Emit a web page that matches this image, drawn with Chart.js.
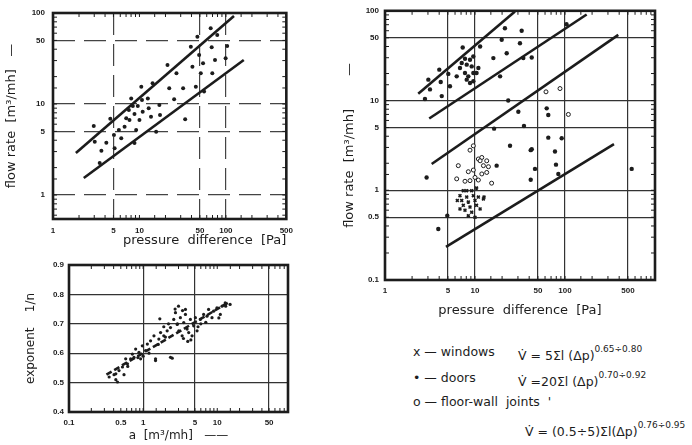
<!DOCTYPE html>
<html>
<head>
<meta charset="utf-8">
<script src="https://cdn.jsdelivr.net/npm/chart.js@4.4.1/dist/chart.umd.min.js"></script>
<style>
  body { margin: 0; background: #fff; width: 692px; height: 445px; overflow: hidden; position: relative; font-family: "DejaVu Sans", sans-serif; color: #1c1c1c; }
  .box { position: absolute; }
  .leg { position: absolute; font-size: 12.5px; white-space: pre; line-height: 14px; }
  .leg sup { font-size: 9px; position: relative; top: -3px; }
</style>
</head>
<body>
<div class="box" style="left:0;top:0;width:300px;height:250px"><canvas id="flowChart"></canvas></div>
<div class="box" style="left:0;top:250px;width:300px;height:195px"><canvas id="expChart"></canvas></div>
<div class="box" style="left:340px;top:0;width:352px;height:320px"><canvas id="elemChart"></canvas></div>

<div class="leg" style="left:413px;top:345px">x — windows</div>
<div class="leg" style="left:518px;top:345px">V̇ = 5Σl (Δp)<sup>0.65÷0.80</sup></div>
<div class="leg" style="left:413px;top:371px">• — doors</div>
<div class="leg" style="left:518px;top:371px">V̇ =20Σl (Δp)<sup>0.70÷0.92</sup></div>
<div class="leg" style="left:413px;top:395px">o — floor-wall  joints  '</div>
<div class="leg" style="left:525px;top:421px">V̇ = (0.5÷5)Σl(Δp)<sup>0.76÷0.95</sup></div>

<script>
// top-left: flow rate vs pressure difference
const tlPressure = [2.96, 3.04, 3.63, 4.14, 4.6, 5.07, 5.16, 5.78, 6.16, 6.73, 7.03, 7.54, 7.67, 8.03, 8.38, 8.76, 9.16, 9.57, 10, 10.5, 10.7, 10.9, 12.5, 12.8, 13.6, 14.2, 15.6, 17, 17.3, 21.1, 22.1, 25.2, 26.8, 32, 33.8, 39.3, 41, 44.9, 46.8, 49, 51.2, 54.4, 55.9, 66.7, 68.5, 69.6, 74.8, 79.4, 99.3, 103.5, 3.47, 8.76];
const tlFlow = [5.73, 3.85, 3.07, 3.76, 6.9, 4.56, 3.26, 5.18, 4.2, 5.63, 6.96, 8.6, 6.67, 11.5, 9.5, 7.76, 5.18, 9.5, 6.67, 15.5, 11.1, 8.24, 11.5, 8.97, 7.25, 16.9, 4.96, 9.75, 7.57, 26.8, 14.9, 11.3, 21.8, 14.9, 6.79, 42.6, 25.7, 15.5, 55, 34.5, 21.8, 28, 13.7, 67.9, 42, 21.8, 30.5, 57.3, 31.8, 43.4, 2.25, 3.73];
const tlUpperX = [1.84, 124], tlUpperY = [2.89, 92.7];
const tlLowerX = [2.27, 161], tlLowerY = [1.54, 30.4];
const tlXTicks = [1, 5, 10, 50, 100, 500], tlYTicks = [1, 5, 10, 50, 100];
const tlXGrid = [5, 50, 100], tlYGrid = [1, 5, 10, 50];

// bottom-left: exponent 1/n vs a
const blA = [0.348, 0.405, 0.473, 0.552, 0.428, 0.526, 0.614, 0.582, 0.679, 0.716, 0.793, 0.879, 0.925, 1.08, 0.975, 1.14, 1.26, 1.4, 1.47, 1.63, 1.72, 1.68, 1.9, 2.11, 2.34, 2.47, 2.59, 2.73, 2.88, 3.03, 3.18, 3.36, 3.53, 3.72, 3.92, 4.12, 4.34, 4.57, 4.81, 5.07, 5.34, 5.91, 6.55, 7.27, 7.64, 8.49, 8.91, 9.9, 11, 11.6, 12.8, 14.9, 3.72, 0.428, 0.451, 2.34, 1.47, 0.753, 2.7, 3.0, 3.4, 2.9, 4.0, 3.5, 4.4, 2.2, 1.9, 1.2, 0.85, 1.0, 0.62, 1.6, 2.0, 10.5, 13, 6, 5.5, 7];
const blExp = [0.519, 0.527, 0.541, 0.527, 0.51, 0.553, 0.564, 0.581, 0.581, 0.597, 0.614, 0.603, 0.581, 0.609, 0.625, 0.631, 0.642, 0.659, 0.575, 0.648, 0.67, 0.717, 0.659, 0.676, 0.687, 0.583, 0.715, 0.738, 0.698, 0.676, 0.721, 0.659, 0.704, 0.732, 0.682, 0.67, 0.715, 0.659, 0.693, 0.721, 0.676, 0.715, 0.732, 0.726, 0.749, 0.721, 0.743, 0.754, 0.732, 0.76, 0.771, 0.766, 0.749, 0.53, 0.502, 0.586, 0.581, 0.586, 0.75, 0.76, 0.745, 0.7, 0.64, 0.65, 0.645, 0.7, 0.69, 0.6, 0.585, 0.59, 0.555, 0.63, 0.655, 0.72, 0.76, 0.7, 0.69, 0.705];
const blLineX = [0.32, 14.9], blLineY = [0.527, 0.776];
const blXTicks = [0.1, 0.5, 1, 5, 10, 50], blXGrid = [1, 5, 50];
const blYTicks = [0.4, 0.5, 0.6, 0.7, 0.8, 0.9], blYGrid = [0.5, 0.6, 0.7, 0.8];

// right: building elements
const doorsP = [7.3, 11.4, 21.5, 33, 19.8, 31.6, 22.5, 16, 34.4, 7.74, 8.8, 9.58, 7.12, 8.09, 9.19, 10.9, 6.81, 5.05, 4.01, 6.26, 7.74, 8.43, 9.58, 10.4, 4.16, 5.27, 8.09, 8.8, 9.58, 3.03, 3.16, 4.27, 2.78, 19, 104, 42.7, 23.4, 24.5, 42.7, 62.6, 65.2, 65.2, 91.9, 41.6, 77.4, 46.4, 79.4, 41.6, 84.3, 551, 17.4, 2.9, 35, 16.3, 3.91, 4.92, 30.3];
const doorsV = [39, 40, 64, 60, 47.5, 43.5, 33.7, 29.7, 29.7, 29.2, 28.5, 31, 26.2, 25.1, 24, 23, 23, 19.8, 22.1, 18.6, 20.3, 18.6, 20.3, 20.3, 16.1, 14.4, 17.1, 15.7, 16.4, 17.1, 13.3, 11.2, 10.4, 18.6, 70.7, 30.2, 10, 3.13, 2.87, 8.18, 6.9, 3.86, 3.8, 2.8, 2.7, 1.73, 1.93, 1.31, 1.52, 1.73, 1.88, 1.39, 5.2, 4.86, 0.37, 0.52, 7.5];
const jointsP = [8.8, 10.9, 11.9, 13.5, 11.4, 14.1, 12.4, 13.5, 11.9, 6.52, 8.43, 9.58, 7.74, 8.8, 10, 10.9, 15.3, 6.26, 9.58, 61.5, 88, 109];
const jointsV = [2.8, 2.23, 2.32, 2.13, 2.13, 1.83, 1.88, 1.58, 1.52, 1.88, 1.61, 1.68, 1.26, 1.28, 1.39, 1.3, 1.2, 1.34, 3.13, 12.5, 13.6, 7.0];
const windowsP = [7.41, 9.19, 10.4, 6.81, 8.09, 9.58, 10.9, 12.4, 7.12, 8.43, 10, 7.41, 8.8, 10.4, 11.4, 7.74, 9.19, 8.43, 10, 6.81, 6.36, 12.6, 8.09];
const windowsV = [0.99, 0.99, 1.06, 0.87, 0.84, 0.87, 0.84, 0.8, 0.77, 0.74, 0.77, 0.68, 0.65, 0.68, 0.62, 0.6, 0.57, 0.52, 0.5, 0.62, 0.77, 0.84, 0.99];
const lineAX = [2.34, 27.8], lineAY = [11.9, 98];
const lineBX = [3.1, 174], lineBY = [6.3, 91];
const lineCX = [3.3, 391], lineCY = [1.96, 54];
const lineDX = [4.76, 350], lineDY = [0.234, 3.27];
const rXTicks = [1, 5, 10, 50, 100, 500], rYTicks = [0.1, 0.5, 1, 5, 10, 50, 100];
const rXGrid = [5, 10, 50, 100, 500], rYGrid = [0.5, 1, 5, 10, 50];

const INK = '#1c1c1c';
const FONT = '"DejaVu Sans", sans-serif';

function near(list, v) {
  return list.some(t => Math.abs(t - v) <= Math.abs(t) * 1e-6);
}
function pts(xs, ys) {
  return xs.map((x, i) => ({ x, y: ys[i] }));
}
function lineSet(xs, ys, dash) {
  return { type: 'line', data: pts(xs, ys), showLine: true, pointRadius: 0, borderColor: INK, borderWidth: 2.6, borderDash: dash || [], fill: false };
}

// thick frame round the plot plus small inner ticks at every scale tick
const framePlugin = {
  id: 'frame',
  afterDraw(chart, args, opts) {
    const { ctx, chartArea: a, scales } = chart;
    ctx.save();
    ctx.strokeStyle = INK;
    ctx.lineWidth = 1;
    ctx.beginPath();
    scales.x.ticks.forEach(t => {
      const px = scales.x.getPixelForValue(t.value);
      if (px < a.left || px > a.right) return;
      ctx.moveTo(px, a.bottom); ctx.lineTo(px, a.bottom - 4);
      ctx.moveTo(px, a.top); ctx.lineTo(px, a.top + 4);
    });
    if (opts.minorY) {
      scales.y.ticks.forEach(t => {
        const py = scales.y.getPixelForValue(t.value);
        if (py < a.top || py > a.bottom) return;
        ctx.moveTo(a.left, py); ctx.lineTo(a.left + 4, py);
        ctx.moveTo(a.right, py); ctx.lineTo(a.right - 4, py);
      });
    }
    ctx.stroke();
    ctx.lineWidth = 2.6;
    ctx.strokeRect(a.left, a.top, a.width, a.height);
    ctx.restore();
  }
};

function logAxis(min, max, labels, grid, title, opt) {
  return {
    type: opt.linear ? 'linear' : 'logarithmic',
    min, max,
    afterFit: s => { if (opt.width) s.width = opt.width; if (opt.height) s.height = opt.height; },
    afterBuildTicks: opt.linear ? (s => { s.ticks = labels.map(v => ({ value: v })); }) : undefined,
    border: { display: false, dash: opt.dash || [] },
    grid: {
      drawTicks: false,
      lineWidth: 1.2,
      color: c => (c.tick && near(grid, c.tick.value)) ? opt.gridColor || '#333' : 'rgba(0,0,0,0)'
    },
    ticks: {
      autoSkip: false, maxRotation: 0, padding: opt.pad,
      color: INK,
      font: { family: '"Liberation Sans", sans-serif', size: 8, weight: 'bold' },
      callback: v => near(labels, v) ? (opt.fmt ? opt.fmt(v) : String(v)) : ''
    },
    title: {
      display: true, text: title, color: INK, align: opt.align || 'center',
      font: { family: FONT, size: opt.titleSize || 12 }, padding: opt.titlePad || 2
    }
  };
}

function baseOptions(padding, scales, minorY) {
  return {
    responsive: true, maintainAspectRatio: false, animation: false,
    layout: { padding },
    plugins: { legend: { display: false }, tooltip: { enabled: false }, frame: { minorY } },
    scales
  };
}

new Chart(document.getElementById('flowChart'), {
  type: 'scatter',
  data: {
    datasets: [
      { data: pts(tlPressure, tlFlow), pointRadius: 2, backgroundColor: INK, borderWidth: 0 },
      lineSet(tlUpperX, tlUpperY),
      lineSet(tlLowerX, tlLowerY)
    ]
  },
  options: baseOptions({ left: 2, top: 13, right: 12, bottom: 0 }, {
    x: logAxis(1, 500, tlXTicks, tlXGrid, 'pressure  difference  [Pa]', { height: 31, pad: 7, align: 'end', dash: [22, 9], gridColor: '#444', titleSize: 13 }),
    y: logAxis(0.545, 100, tlYTicks, tlYGrid, 'flow rate  [m³/mh]   —', { width: 51, pad: 8, dash: [22, 9], gridColor: '#444', titleSize: 13 })
  }, true),
  plugins: [framePlugin]
});

new Chart(document.getElementById('expChart'), {
  type: 'scatter',
  data: {
    datasets: [
      { data: pts(blA, blExp), pointRadius: 1.6, backgroundColor: INK, borderWidth: 0 },
      lineSet(blLineX, blLineY, [6, 3])
    ]
  },
  options: baseOptions({ left: 22, top: 15, right: 12, bottom: 0 }, {
    x: logAxis(0.1, 90, blXTicks, blXGrid, 'a  [m³/mh]   ——', { height: 33, pad: 6 }),
    y: logAxis(0.4, 0.9, blYTicks, blYGrid, 'exponent    1/n', { width: 47, pad: 5, linear: true, fmt: v => v.toFixed(1) })
  }, false),
  plugins: [framePlugin]
});

new Chart(document.getElementById('elemChart'), {
  type: 'scatter',
  data: {
    datasets: [
      { label: 'doors', data: pts(doorsP, doorsV), pointRadius: 2.2, backgroundColor: INK, borderWidth: 0 },
      { label: 'floor-wall joints', data: pts(jointsP, jointsV), pointRadius: 2, backgroundColor: '#fff', borderColor: INK, borderWidth: 1 },
      { label: 'windows', data: pts(windowsP, windowsV), pointStyle: 'crossRot', pointRadius: 2, borderColor: INK, borderWidth: 1.6 },
      lineSet(lineAX, lineAY),
      lineSet(lineBX, lineBY),
      lineSet(lineCX, lineCY),
      lineSet(lineDX, lineDY)
    ]
  },
  options: baseOptions({ left: 0, top: 9, right: 37, bottom: 0 }, {
    x: logAxis(1, 1000, rXTicks, rXGrid, 'pressure  difference  [Pa]', { height: 40, pad: 6, titleSize: 13 }),
    y: logAxis(0.1, 100, rYTicks, rYGrid, 'flow rate  [m³/mh]        —', { width: 45, pad: 6, titleSize: 13 })
  }, true),
  plugins: [framePlugin]
});
</script>
</body>
</html>
